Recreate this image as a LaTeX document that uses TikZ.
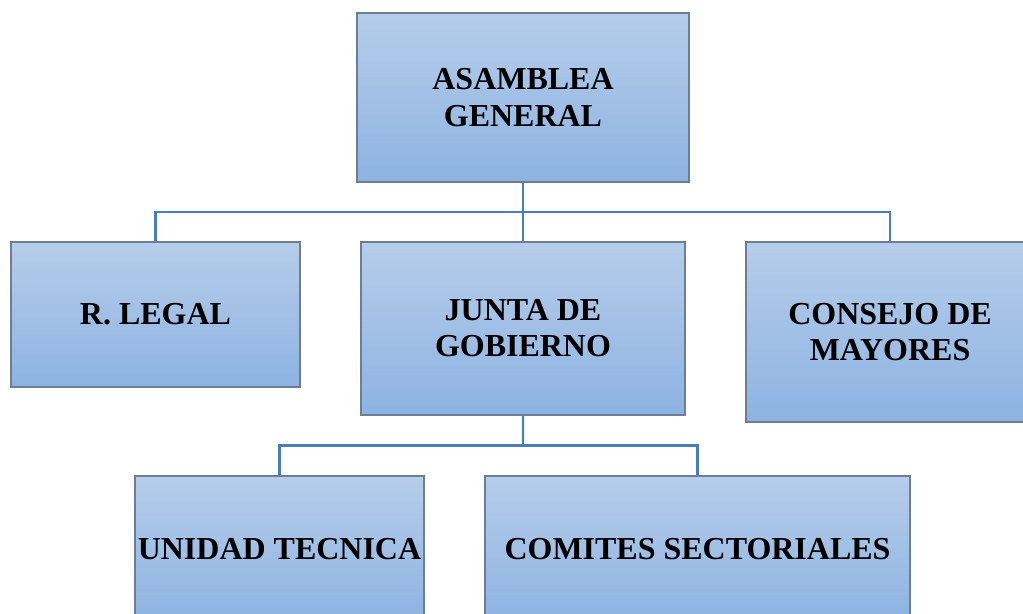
\documentclass[tikz,border=0pt]{standalone}
\usepackage{fontspec}
\setmainfont{Liberation Serif}
\usetikzlibrary{calc}
\definecolor{boxtop}{HTML}{B6CDEA}
\definecolor{boxbot}{HTML}{8DB3E2}
\definecolor{boxline}{HTML}{6E7E92}
\definecolor{linkblue}{HTML}{4A7EBB}

\begin{document}
\begin{tikzpicture}[x=0.02cm, y=-0.02cm,
  box/.style={rectangle, draw=boxline, line width=0.8pt, top color=boxtop, bottom color=boxbot,
    align=center, inner sep=0pt, font=\fontsize{18.2}{20.6}\selectfont\bfseries},
  conn/.style={draw=linkblue, line width=1.2pt}]
  \useasboundingbox (0,0) rectangle (1023,614);
  \clip (0,0) rectangle (1023,614);
  \node[box, minimum width=332*0.02cm, minimum height=169*0.02cm] (asam) at (523,97.5) {ASAMBLEA\\GENERAL};
  \node[box, minimum width=289*0.02cm, minimum height=145*0.02cm] (legal) at (155.5,314.5) {R. LEGAL};
  \node[box, minimum width=324*0.02cm, minimum height=173*0.02cm] (junta) at (523,328.5) {JUNTA DE\\GOBIERNO};
  \node[box, minimum width=288*0.02cm, minimum height=180*0.02cm] (consejo) at (890,332) {CONSEJO DE\\MAYORES};
  \node[box, minimum width=289*0.02cm, minimum height=146*0.02cm] (unidad) at (279.5,549) {UNIDAD TECNICA};
  \node[box, minimum width=425*0.02cm, minimum height=146*0.02cm] (comites) at (697.5,549) {COMITES SECTORIALES};
  % ramas
  \coordinate (bus1) at ($(asam.south)!0.5!(junta.north)$);
  \coordinate (bus2) at ($(junta.south)!0.5!(junta.south |- unidad.north)$);
  \draw[conn] (asam.south) -- (junta.north);
  \draw[conn] (legal.north) |- (bus1) -| (consejo.north);
  \draw[conn] (junta.south) -- (bus2);
  \draw[conn] (unidad.north) |- (bus2) -| (comites.north);
\end{tikzpicture}
\end{document}
